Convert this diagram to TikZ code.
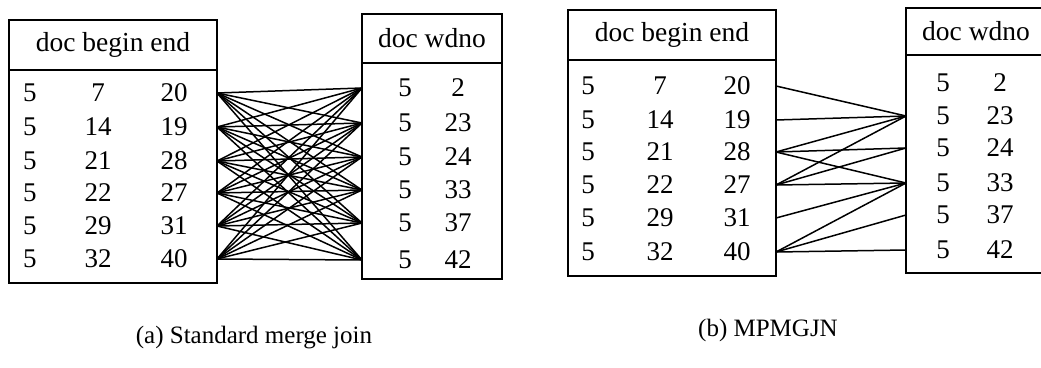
\documentclass[tikz,border=0pt]{standalone}
\usepackage{fontspec}
\setmainfont{Liberation Serif}
\usetikzlibrary{positioning}

\begin{document}
\begin{tikzpicture}[
        x=1pt, y=-1pt,
        header/.style={
            rectangle,
            draw=black,
            line width=2pt,
            outer sep=0pt,
            inner sep=0pt,
            font=\fontsize{27.5}{30}\selectfont
        },
        tablebody/.style={
            rectangle,
            draw=black,
            line width=2pt,
            outer sep=0pt,
            inner sep=0pt
        },
        entry/.style={inner sep=0pt, font=\fontsize{27}{30}\selectfont},
        caption/.style={inner sep=0pt, font=\fontsize{25}{28}\selectfont},
        link/.style={line width=1.5pt, black}
    ]
        \useasboundingbox (0,0) rectangle (1041,367);

        % (a) standard merge join
        \node[header, minimum width=208pt, minimum height=50pt] (elemAhead) at (113,45) {doc begin end};
        \node[tablebody, minimum width=208pt, minimum height=213pt, below=0pt of elemAhead] (elemA) {};
        \node[header, minimum width=140pt, minimum height=49pt] (wordAhead) at (432,38) {doc wdno};
        \node[tablebody, minimum width=140pt, minimum height=216pt, below=0pt of wordAhead] (wordA) {};

        \foreach \b/\e/\y [count=\i] in {7/20/93, 14/19/127, 21/28/161, 22/27/193, 29/31/226, 32/40/259} {
            \node[entry] (elemA-d\i) at (30,\y) {5};
            \node[entry] (elemA-b\i) at (98,\y) {\b};
            \node[entry] (elemA-e\i) at (174,\y) {\e};
        }
        \foreach \w/\y [count=\i] in {2/88, 23/123, 24/157, 33/190, 37/223, 42/260} {
            \node[entry] (wordA-d\i) at (405,\y) {5};
            \node[entry] (wordA-w\i) at (458,\y) {\w};
        }
        \foreach \i in {1,...,6}
            \foreach \j in {1,...,6}
                \draw[link] (elemA.east |- elemA-e\i) -- (wordA.west |- wordA-w\j);

        % (b) MPMGJN
        \node[header, minimum width=208pt, minimum height=50pt] (elemBhead) at (672,35) {doc begin end};
        \node[tablebody, minimum width=208pt, minimum height=216pt, below=0pt of elemBhead] (elemB) {};
        \node[header, minimum width=140pt, minimum height=47pt] (wordBhead) at (976,31.5) {doc wdno};
        \node[tablebody, minimum width=140pt, minimum height=218pt, below=0pt of wordBhead] (wordB) {};

        \foreach \b/\e/\y [count=\i] in {7/20/86, 14/19/120, 21/28/152, 22/27/185, 29/31/218, 32/40/252} {
            \node[entry] (elemB-d\i) at (588,\y) {5};
            \node[entry] (elemB-b\i) at (660,\y) {\b};
            \node[entry] (elemB-e\i) at (737,\y) {\e};
        }
        \foreach \w/\y [count=\i] in {2/83, 23/116, 24/148, 33/183, 37/215, 42/250} {
            \node[entry] (wordB-d\i) at (943,\y) {5};
            \node[entry] (wordB-w\i) at (1000,\y) {\w};
        }
        \foreach \i/\j in {1/2, 2/2, 3/2, 3/3, 3/4, 4/2, 4/3, 4/4, 5/4, 6/4, 6/5, 6/6}
            \draw[link] (elemB.east |- elemB-e\i) -- (wordB.west |- wordB-w\j);

        \node[caption] (capA) at (254,338) {(a) Standard merge join};
        \node[caption] (capB) at (768,330) {(b) MPMGJN};
\end{tikzpicture}
\end{document}
